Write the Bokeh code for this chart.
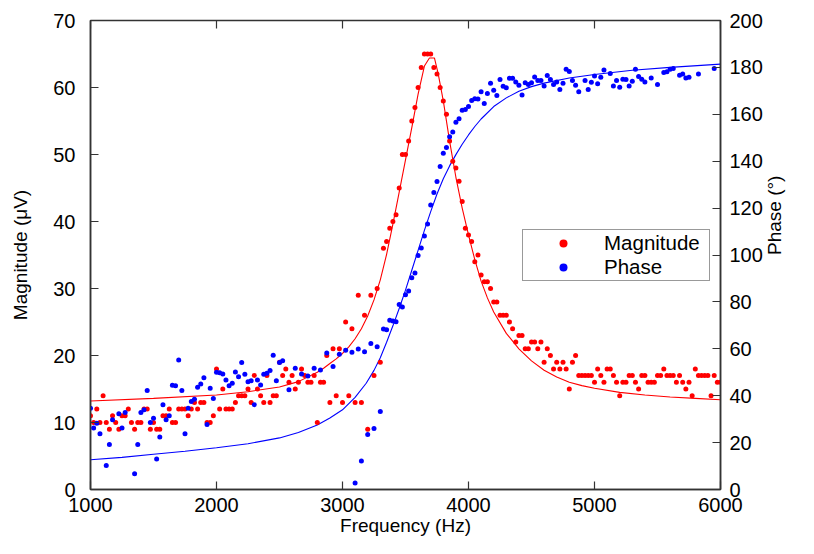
import math
import numpy as np
from bokeh.plotting import figure
from bokeh.models import Range1d, LinearAxis, FixedTicker, Legend, ColumnDataSource
from bokeh.embed import file_html
from bokeh.resources import INLINE

# ---- data ----
freq = list(range(1000, 6001, 25))  # frequency sweep, Hz

magnitude = [
    11, 10, 12, 10, 14, 10, 9, 11, 10, 9, 11, 11, 12, 10, 9, 10, 10, 12, 12, 9,
    10, 9, 9, 11, 11, 12, 10, 10, 12, 12, 12, 11, 12, 13,
    12, 13, 13, 10, 10, 11, 18, 12, 15, 12, 12, 12, 13, 14, 14, 14, 15, 13, 17, 15,
    14, 13, 17, 13, 14, 14, 19, 17, 18, 16, 17, 15, 16,
    18, 17, 16, 16, 17, 10, 16, 16, 20, 13, 21, 14, 21, 13, 25, 14, 24, 13, 29, 13,
    26, 9, 29, 17, 30, 19,
    36, 37, 39, 40, 41, 45, 50, 50, 52, 55, 57, 60, 63, 65, 65, 65, 63, 62, 60, 58,
    56, 52,
    49, 48, 46, 43, 39, 38, 37, 34, 35, 32, 31, 31, 30, 28, 28, 26, 26, 26, 25, 24,
    22, 23, 23, 21, 21, 22, 22, 21, 22, 19, 21, 20, 18, 19, 18, 19, 18, 15, 19, 20, 17,
    17, 17, 17, 17, 16, 18, 17, 16, 18, 18, 17, 16, 14, 16, 16, 17, 17, 16, 15, 17,
    17, 16, 16, 16, 17, 17, 18, 17, 17, 17, 16, 17, 16, 15, 16, 14, 18, 17, 17, 17,
    17, 14, 17, 16, 16,
]

N = None
phase = [
    34.7, 26.2, 28.3, 23.8, N, 10.2, 19.2, 29.7, N, 32.3, 26.2, 32.8, N, N, 6.7, 19.2,
    32.8, 34, 42.2, 28.6, 30.4, 13, 22.4, 36.1, 29.7, 31.4, 44.5, 44.2, 55.2, 42.2,
    23.8, 34.7, 37.5, 38.5,
    43.6, 45, 47.7, 27.7, 43.2, 38.8, 50, 49.8, 49.3, 46.7, 44.2, 45.3, 50.1, 48.1,
    54.2, 49.1, 46, 46.4, 36.1, 46.7, 44.6, 49.1, 49.6, 50.7, 57.3, 46.4, 54.2, 54.9,
    N, 42.5, N,
    51.7, N, 49.3, N, 48.4, N, 51.7, N, 51, N, 58.2, N, 52.4, N, 57.7, N, 59.4, N,
    58.5, 2.8, 59.9, 12.2, 58.7, 23.5, 62.3, 26, 60.9, 33.3,
    68.4, 68.1, 72.2, 71.9, 71.5, 78.9, 77.8, 83.1, 84.6, 90.3, 92.3, 99.8, 103,
    108.1, 113.2, 121.3, 126.7, 131.3, 137.7, 143.4, 145.8, 150.4,
    152.4, 156.6, 158.1, 161.7, 162.1, 163.3, 165.9, 166.6, 166.5, 169.6, 164.6,
    168.9, 173.2, 170.3, 168, 174.8, 172, 171.3, 175.4, 175.4, 173.8, 172.4, 168.2,
    173.5, 172.7, 173.5, 175.9, 174.4, 174.4, 172.1, 176.5, 174.8, 172.7, 173.8,
    170.6, 173.2, 179.2, 178.3, 174.4, 172.4, 169.6,
    N, 174.4, 170.6, 173.7, 176.3, 173, 175.8, 178.9, N, 177.4, 172.1, 174.4, 171.5,
    175, 174.8, 172.1, 174.1, 179.2, 176.1, 175, 173.8, N, 175.5, N, 172.7, N, 177.8,
    178.1, 179.2, 179.5, N, 176.6, 177.2, 175.5, 175.8, N, N, 177.2, N, N, N, N,
    179.5, N, N,
]

# fitted curves
mag_fit_freq = [1000, 1500, 2000, 2250, 2500, 2650, 2800, 2850, 2900, 2950, 3000,
                3050, 3100, 3150, 3200, 3250, 3300, 3350, 3400, 3450, 3500, 3550,
                3600, 3650, 3690, 3730, 3760, 3800, 3850, 3900, 3950, 4000, 4050,
                4100, 4150, 4200, 4300, 4400, 4500, 4600, 4700, 4800, 4900, 5000,
                5200, 5400, 5600, 5800, 6000]
mag_fit = [13.2, 13.6, 14.1, 14.6, 15.3, 16.1, 17.5, 18.1, 18.8, 19.5, 20.3,
           21.3, 22.5, 24.0, 25.9, 28.3, 31.3, 35.1, 39.6, 44.4, 49.2, 54.0,
           59.0, 63.2, 64.4, 64.4, 62.0, 58.0, 52.0, 46.6, 42.0, 38.0, 34.3,
           31.1, 28.6, 26.5, 23.3, 21.0, 19.2, 17.8, 16.8, 16.0, 15.5, 15.1,
           14.5, 14.1, 13.8, 13.6, 13.4]

phase_fit_freq = [1000, 1250, 1500, 1750, 2000, 2250, 2500, 2650, 2800, 2900, 3000,
                  3100, 3188, 3250, 3300, 3350, 3400, 3450, 3500, 3550, 3600, 3650,
                  3700, 3750, 3800, 3850, 3900, 3950, 4000, 4050, 4100, 4200, 4300,
                  4400, 4500, 4600, 4800, 5000, 5300, 5600, 6000]
phase_fit = [12.7, 13.7, 15.0, 16.3, 17.8, 19.5, 22.0, 24.3, 27.5, 30.5, 34.0,
             39.3, 45.3, 50.8, 56.2, 62.8, 69.8, 77.2, 85.0, 93.5, 102.0, 110.5,
             118.5, 126.0, 132.5, 138.0, 142.8, 147.2, 151.2, 154.8, 158.0, 163.3, 167.0,
             169.8, 171.8, 173.3, 175.5, 177.0, 178.8, 180.0, 181.4]

x_ticks = [1000, 2000, 3000, 4000, 5000, 6000]
mag_ticks = [0, 10, 20, 30, 40, 50, 60, 70]
phase_ticks = [0, 20, 40, 60, 80, 100, 120, 140, 160, 180, 200]

assert len(freq) == len(magnitude) == len(phase)

FONT = "Liberation Sans"
AX = "#333333"

src = ColumnDataSource(dict(
    f=freq,
    m=np.array(magnitude, dtype=float),
    ph=np.array([np.nan if v is None else v for v in phase], dtype=float),
))

p = figure(width=798, height=538, output_backend="svg", toolbar_location=None,
           x_range=Range1d(1000, 6000), y_range=Range1d(0, 70),
           min_border_left=90, min_border_right=77, min_border_top=20,
           min_border_bottom=48)
p.extra_y_ranges = {"phase": Range1d(0, 200)}
p.xgrid.visible = False
p.ygrid.visible = False
p.outline_line_color = AX
p.outline_line_width = 1.5
p.background_fill_color = "white"
p.border_fill_color = "white"


def style(ax, ticks):
    ax.ticker = FixedTicker(ticks=ticks)
    ax.major_tick_in = 8
    ax.major_tick_out = 0
    ax.minor_tick_line_color = None
    ax.major_tick_line_color = AX
    ax.major_tick_line_width = 1.2
    ax.axis_line_color = AX
    ax.axis_line_width = 1.5
    ax.major_label_text_font = FONT
    ax.major_label_text_font_size = "20px"
    ax.major_label_text_color = "black"
    ax.axis_label_text_font = FONT
    ax.axis_label_text_font_size = "19px"
    ax.axis_label_text_font_style = "normal"
    ax.axis_label_text_color = "black"


xa = p.xaxis[0]
style(xa, x_ticks)
xa.axis_label = "Frequency (Hz)"
xa.major_label_standoff = 8
xa.axis_label_standoff = 0

ya = p.yaxis[0]
style(ya, mag_ticks)
ya.axis_label = "Magnitude (\u03bcV)"
ya.major_label_standoff = 15
ya.axis_label_standoff = 19

ra = LinearAxis(y_range_name="phase")
style(ra, phase_ticks)
ra.axis_label = "Phase (\u00b0)"
ra.major_label_standoff = 9
ra.axis_label_standoff = 9
ra.axis_label_orientation = math.pi / 2
p.add_layout(ra, "right")

# mirrored x ticks on the top border (inward)
p.ray(x=x_ticks, y=[70] * len(x_ticks), length=8, length_units="screen",
      angle=-math.pi / 2, line_color=AX, line_width=1.2)

p.line(mag_fit_freq, mag_fit, line_color="#ff0000", line_width=1.1)
p.line(phase_fit_freq, phase_fit, line_color="#0000ff", line_width=1.1,
       y_range_name="phase")
r_mag = p.scatter("f", "m", source=src, size=5, color="#ff0000", line_width=0)
r_ph = p.scatter("f", "ph", source=src, size=5, color="#0000ff", line_width=0,
                 y_range_name="phase")

legend = Legend(items=[("Magnitude", [r_mag]), ("Phase", [r_ph])],
                location=(432, 208))
legend.label_text_font = FONT
legend.label_text_font_size = "20.5px"
legend.label_text_color = "black"
legend.border_line_color = AX
legend.border_line_width = 1.5
legend.padding = 1
legend.spacing = 0
legend.margin = 0
legend.glyph_width = 78
legend.glyph_height = 20
legend.label_height = 20
legend.label_width = 104
legend.label_standoff = 2
legend.background_fill_alpha = 1.0
p.add_layout(legend)

open("out.html", "w").write(file_html(p, INLINE))
